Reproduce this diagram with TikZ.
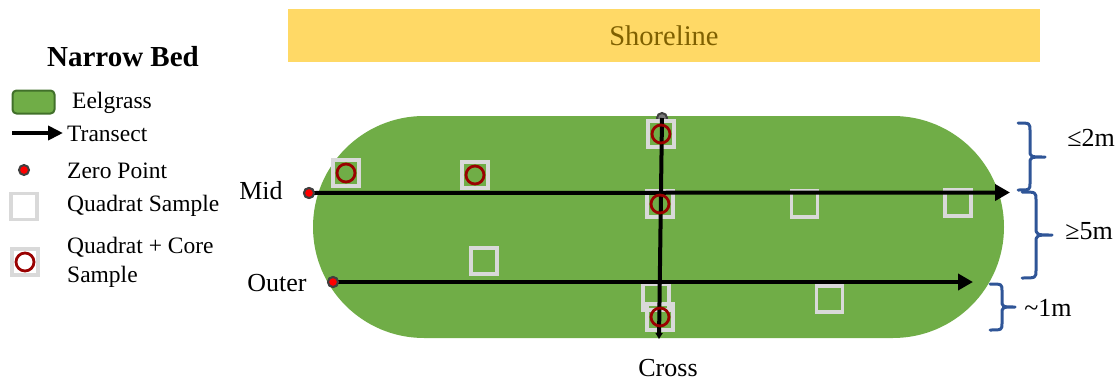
\documentclass[tikz,border=0pt]{standalone}
\usepackage{fontspec}
\setmainfont{Liberation Serif}
\usetikzlibrary{arrows.meta,shapes.misc}
\definecolor{grass}{HTML}{70AD47}
\definecolor{grassedge}{HTML}{41702A}
\definecolor{shore}{HTML}{FFD966}
\definecolor{shoretext}{HTML}{7F6000}
\definecolor{quad}{HTML}{D9D9D9}
\definecolor{core}{HTML}{990000}
\definecolor{bracecol}{HTML}{2F5597}
\definecolor{zedge}{HTML}{404040}
\begin{document}
\begin{tikzpicture}[x=1pt,y=-1pt,
  legtext/.style={font=\fontsize{23.5}{27}\selectfont, anchor=west, inner sep=0pt, align=left},
  lbl/.style={font=\fontsize{26}{30}\selectfont, inner sep=0pt},
  zpoint/.style={circle, fill=red, draw=zedge, line width=2pt, minimum size=10pt, inner sep=0pt},
  quadrat/.style={draw=quad, line width=3.2pt, minimum size=26pt, inner sep=0pt},
  corering/.style={circle, draw=core, line width=2.8pt, minimum size=18pt, inner sep=0pt},
  transect/.style={line width=4pt, -{Triangle[length=15pt,width=16pt]}},
  bracestyle/.style={draw=bracecol, line width=3pt, line cap=round, line join=round}]
\useasboundingbox (0,0) rectangle (1120,381);

% shoreline
\node[fill=shore, minimum width=752pt, minimum height=53pt, inner sep=0pt,
      text=shoretext, font=\fontsize{28.5}{31}\selectfont] (shore) at (664,35.5) {Shoreline};

% eelgrass bed
\node[rounded rectangle, fill=grass, minimum width=691pt, minimum height=222pt, inner sep=0pt] (bed) at (658.5,227) {};

% legend
\node[font=\bfseries\fontsize{29}{33}\selectfont, inner sep=0pt] (title) at (123,57) {Narrow Bed};
\node[draw=grassedge, fill=grass, line width=2pt, rounded corners=4pt, minimum width=42pt, minimum height=23pt, inner sep=0pt] (legbed) at (33.5,102) {};
\node[legtext] (legbedt) at (72,103) {Eelgrass};
\coordinate (legarrA) at (12,133);
\coordinate (legarrB) at (63,133);
\draw[line width=4pt, -{Triangle[length=15pt,width=14pt]}] (legarrA) -- (legarrB);
\node[legtext] (legtrt) at (67,134) {Transect};
\node[zpoint] (legzp) at (24,170) {};
\node[legtext] (legzpt) at (67,171) {Zero Point};
\node[quadrat] (legq) at (24,206.5) {};
\node[legtext] (legqt) at (67,206) {Quadrat Sample};
\node[quadrat] (legqc) at (25,262) {};
\node[corering] (legc) at (25,262) {};
\node[legtext] (legqct) at (67,247) {Quadrat + Core};
\node[legtext] (legqct2) at (67,277) {Sample};

% labels
\node[lbl] (midl) at (261,191) {Mid};
\node[lbl] (outl) at (277,283) {Outer};
\node[lbl] (crossl) at (668,368) {Cross};

% zero point of cross transect (mostly hidden)
\node[zpoint, fill=zedge!70] (ztop) at (662,118) {};

% quadrats
\node[quadrat] (q1) at (346,173) {};
\node[quadrat] (q2) at (475,175) {};
\node[quadrat] (q3) at (661,134) {};
\node[quadrat] (q4) at (660,204) {};
\node[quadrat] (q5) at (484,261) {};
\node[quadrat] (q6) at (656,297) {};
\node[quadrat] (q7) at (660,317) {};
\node[quadrat] (q8) at (804.5,204) {};
\node[quadrat] (q9) at (958,203) {};
\node[quadrat] (q10) at (829.5,299) {};

% transects
\node[zpoint] (zmid) at (309,193) {};
\node[zpoint] (zout) at (333,282) {};
\coordinate (midend) at (1010,192.5);
\coordinate (outend) at (973,282);
\coordinate (crossend) at (659,339);
\draw[transect] (zmid.center) -- (midend);
\draw[transect] (zout.center) -- (outend);
\draw[line width=4pt, -{Triangle[length=6pt,width=7pt]}] (ztop.center) -- (crossend);
\node[zpoint] at (zmid) {};
\node[zpoint] at (zout) {};

% cores
\node[corering] (c1) at (q1) {};
\node[corering] (c2) at (q2) {};
\node[corering] (c3) at (q3) {};
\node[corering] (c4) at (q4) {};
\node[corering] (c7) at (q7) {};

% braces
\path[bracestyle] (1018,123) .. controls (1030,123) .. (1030,131) -- (1030,150)
   .. controls (1030,157) .. (1045,157) .. controls (1030,157) .. (1030,164)
   -- (1030,183) .. controls (1030,190) .. (1018,190);
\path[bracestyle] (1022,192) .. controls (1036,192) .. (1036,200) -- (1036,227)
   .. controls (1036,235) .. (1052,235) .. controls (1036,235) .. (1036,243)
   -- (1036,270) .. controls (1036,278) .. (1022,278);
\path[bracestyle] (990,284) .. controls (1002,284) .. (1002,291) -- (1002,300)
   .. controls (1002,307) .. (1015,307) .. controls (1002,307) .. (1002,314)
   -- (1002,323) .. controls (1002,330) .. (990,330);
\node[lbl] (d1) at (1091,138) {≤2m};
\node[lbl] (d2) at (1089,231) {≥5m};
\node[lbl] (d3) at (1048,308) {\char"007E 1m};
\end{tikzpicture}
\end{document}
